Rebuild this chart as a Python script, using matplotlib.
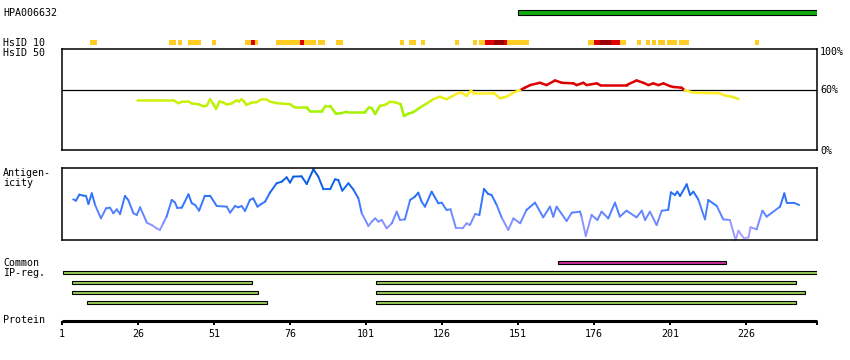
import numpy as np
import matplotlib
matplotlib.use("Agg")
import matplotlib.pyplot as plt
from matplotlib.collections import LineCollection

# ---------------- data ----------------
protein_length = 249
antigen_name = "HPA006632"
antigen_start, antigen_end = 151, 249.4

# HsID 10 segments (residue start, end, level: 1 = weak, 2 = medium, 3 = strong)
hs10_start = [10.2, 36.2, 39.2, 42.4, 50.3, 61.2, 63.2, 64.5, 71.4, 79.3, 80.6, 85.2,
              91.1, 112.2, 115.1, 119.1, 130.3, 136.2, 138.2, 140.1, 143.1, 146.4, 147.4,
              174.0, 176.0, 178.0, 181.6, 184.6, 190.1, 193.1, 195.1, 197.1, 200.1, 204.1, 228.9]
hs10_end = [12.5, 38.4, 40.5, 46.7, 51.7, 63.2, 64.5, 65.5, 79.3, 80.6, 84.6, 87.5,
            93.4, 113.5, 117.4, 120.4, 131.6, 137.5, 140.1, 143.1, 146.4, 147.4, 154.6,
            176.0, 178.0, 181.6, 184.6, 186.5, 191.5, 194.4, 196.4, 199.4, 203.4, 207.4, 230.2]
hs10_level = [1, 1, 1, 1, 1, 1, 2, 1, 1, 2, 1, 1,
              1, 1, 1, 1, 1, 1, 1, 2, 3, 2, 1,
              1, 2, 3, 2, 1, 1, 1, 1, 1, 1, 1, 1]

# HsID 50 identity (%)
ident_pos = [25.8, 37.6, 39.3, 40.4, 42.6, 43.7, 45.8, 47.5, 48.6, 49.7, 50.8, 51.7, 52.8,
             54.1, 55.2, 56.8, 58.5, 59.2, 60.1, 60.9, 61.7, 63.4, 65.0, 66.7, 68.3, 69.4,
             71.6, 76.0, 77.6, 81.5, 82.6, 86.4, 87.7, 89.2, 91.1, 93.0, 94.6, 100.7, 102.1,
             102.9, 104.0, 105.6, 107.3, 108.9, 110.5, 112.4, 113.5, 114.9, 116.6, 118.8,
             121.0, 123.1, 125.3, 127.5, 129.7, 131.4, 132.5, 134.1, 135.5, 136.3, 142.9,
             145.1, 147.3, 149.5, 152.2, 153.3, 155.0, 158.2, 160.4, 163.2, 165.4, 169.2,
             170.3, 172.5, 173.6, 176.9, 178.0, 186.7, 190.0, 192.2, 193.9, 195.5, 197.2,
             198.8, 201.0, 202.1, 204.8, 205.9, 208.7, 217.4, 219.1, 221.3, 223.5]
ident_val = [49.8, 49.8, 46.9, 48.2, 48.5, 46.6, 45.9, 43.9, 44.3, 50.8, 45.9, 41.3, 48.5,
             47.5, 45.6, 46.6, 49.8, 48.5, 50.8, 48.5, 45.2, 47.5, 47.9, 50.8, 50.5, 48.5,
             46.9, 45.9, 42.6, 42.6, 38.7, 38.7, 44.3, 44.3, 36.4, 37.0, 38.4, 38.4, 42.9,
             42.0, 36.1, 44.3, 45.2, 48.2, 47.9, 45.9, 34.1, 36.4, 38.0, 42.6,
             46.6, 50.8, 53.4, 50.8, 54.4, 57.0, 57.4, 54.1, 59.3, 57.4, 57.4,
             51.8, 53.4, 57.4, 60.7, 62.3, 64.9, 67.2, 64.9, 69.5, 67.2, 66.6,
             64.9, 67.2, 64.9, 66.6, 64.9, 64.9, 69.5, 67.2, 64.9, 66.6, 64.9,
             66.6, 63.9, 63.0, 62.3, 59.7, 57.4, 56.7, 54.4, 53.4, 51.1]

# Antigenicity (relative score, 0-100)
anti_pos = [4.7, 5.6, 6.7, 8.0, 8.9, 9.7, 10.8, 11.9, 13.8, 15.5, 16.8, 17.9, 19.0, 20.1,
            21.7, 22.8, 24.5, 25.6, 26.7, 28.9, 30.5, 32.1, 33.2, 34.3, 35.4, 37.1, 38.2,
            38.9, 40.4, 42.6, 43.7, 44.8, 46.1, 48.0, 49.7, 51.9, 55.2, 56.3, 57.9, 59.0,
            60.1, 61.2, 62.8, 63.9, 65.3, 66.4, 67.8, 69.4, 71.6, 73.3, 74.9, 76.0, 77.1,
            79.8, 81.5, 83.7, 85.3, 87.0, 89.2, 90.8, 91.9, 93.2, 95.2, 96.8, 98.5, 99.6,
            101.8, 102.9, 104.0, 105.1, 106.2, 107.8, 109.5, 111.1, 112.2, 113.8, 115.5,
            117.1, 118.2, 119.3, 120.4, 122.6, 124.8, 125.9, 127.5, 128.8, 130.6, 132.8,
            134.1, 135.2, 136.9, 138.3, 139.8, 141.2, 142.3, 144.0, 145.6, 147.8, 149.5,
            151.7, 153.8, 156.6, 159.3, 161.5, 162.6, 163.7, 167.0, 168.7, 171.4, 171.9,
            173.3, 175.2, 177.1, 178.5, 180.7, 182.9, 184.5, 186.7, 190.0, 191.7, 192.8,
            194.4, 196.6, 198.3, 200.4, 201.3, 202.6, 203.4, 204.3, 206.5, 207.6, 208.7,
            210.3, 212.5, 213.6, 216.4, 218.5, 220.7, 222.6, 223.5, 225.3, 226.8, 227.5,
            229.5, 231.4, 232.8, 237.2, 238.6, 239.4, 241.6, 243.5]
anti_val = [56.7, 54.9, 63.3, 61.9, 61.4, 50.2, 65.1, 48.8, 30.2, 44.2, 45.1, 37.2, 42.8, 36.3,
            61.4, 55.8, 37.2, 34.9, 45.6, 24.2, 20.9, 16.3, 14.0, 23.3, 32.6, 55.8, 52.1,
            44.7, 45.1, 63.7, 51.2, 48.8, 40.9, 61.9, 61.9, 47.4, 46.5, 38.1, 47.4, 45.6,
            47.4, 40.5, 55.8, 58.1, 46.5, 49.8, 53.5, 66.0, 79.1, 81.4, 87.4, 80.0, 88.4,
            88.8, 78.1, 98.6, 88.4, 70.7, 70.7, 84.7, 83.7, 68.8, 79.1, 70.7, 58.1, 37.2,
            19.5, 25.6, 30.2, 25.6, 27.9, 16.3, 23.3, 39.5, 27.9, 28.8, 55.8,
            60.5, 66.0, 53.5, 46.5, 67.4, 51.2, 52.1, 41.9, 42.8, 16.3, 16.3,
            23.3, 20.9, 36.3, 34.9, 71.2, 64.2, 62.8, 48.8, 31.6, 14.0, 30.2,
            23.3, 41.9, 52.1, 31.6, 46.5, 32.6, 46.5, 26.5, 38.1, 39.5, 32.6,
            5.6, 34.9, 27.9, 39.5, 30.2, 52.1, 32.6, 40.9, 31.6, 40.9, 27.9,
            39.5, 20.9, 40.9, 41.9, 66.5, 62.8, 67.4, 61.4, 77.7, 62.8, 67.4,
            56.7, 28.8, 55.8, 47.4, 28.8, 27.9, 0.0, 13.0, 2.3, 3.7, 17.7,
            14.9, 40.9, 32.6, 46.5, 65.1, 52.1, 52.1, 48.8]

# Common IP-regions: rows (0 = top), start, end, kind
ip_row = [0, 1, 2, 2, 3, 3, 4, 4]
ip_start = [164.3, 1.4, 4.4, 104.4, 4.4, 104.4, 9.3, 104.4]
ip_end = [219.3, 249.3, 63.4, 242.3, 65.4, 245.3, 68.3, 242.3]
ip_kind = ["common", "ip", "ip", "ip", "ip", "ip", "ip", "ip"]

tick_vals = [1, 26, 51, 76, 101, 126, 151, 176, 201, 226]

# ---------------- layout ----------------
W, H = 850, 360
fig = plt.figure(figsize=(W / 100, H / 100), dpi=100)
FONT = dict(family="DejaVu Sans Mono", size=7.2, color="black")
XL, XR = 62, 817
XMAX = 1 + (XR - XL) / 3.04


def add_ax(y0, y1, x0=XL, x1=XR):
    ax = fig.add_axes([x0 / W, 1 - y1 / H, (x1 - x0) / W, (y1 - y0) / H])
    ax.set_xlim(1, XMAX)
    return ax


def hide(ax):
    for s in ax.spines.values():
        s.set_visible(False)
    ax.set_xticks([])
    ax.set_yticks([])
    ax.patch.set_alpha(0)


def ftext(x, y, s, **kw):
    d = dict(FONT)
    d.update(kw)
    fig.text(x / W, 1 - y / H, s, va="center", ha=d.pop("ha", "left"), **d)


# antigen bar
ax = add_ax(5, 20)
hide(ax)
ax.set_ylim(-1, 1)
ax.barh(0, antigen_end - antigen_start, left=antigen_start, height=0.62,
        color="#11aa11", edgecolor="black", linewidth=0.8)

# HsID 10 row
ax = add_ax(38, 47)
hide(ax)
ax.set_ylim(0, 9)
lvl_col = {1: "#ffcc22", 2: "#dd0000", 3: "#990000"}
for s, e, l in zip(hs10_start, hs10_end, hs10_level):
    ax.broken_barh([(s, e - s)], (2, 5), facecolors=lvl_col[l], linewidth=0)

# identity plot
ax = add_ax(48.5, 150.3)
ax.set_ylim(0, 101.3)
ax.set_xticks([])
ax.set_yticks([])
for s in ax.spines.values():
    s.set_linewidth(1.1)
ax.axhline(60, color="black", linewidth=0.9)


def ident_color(v):
    if v >= 60:
        return (0.87, 0.0, 0.0)
    r = np.interp(v, [30, 40, 50, 55, 60], [0.58, 0.65, 0.82, 1.0, 1.0])
    g = np.interp(v, [30, 40, 50, 55, 60], [0.95, 0.95, 0.94, 0.93, 0.93])
    b = np.interp(v, [30, 40, 50, 55, 60], [0.0, 0.0, 0.05, 0.15, 0.15])
    return (r, g, b)


ip = np.array(ident_pos)
iv = np.array(ident_val)
segs = np.stack([np.column_stack([ip[:-1], iv[:-1]]), np.column_stack([ip[1:], iv[1:]])], axis=1)
cols = [ident_color((a + b) / 2) for a, b in zip(iv[:-1], iv[1:])]
ax.add_collection(LineCollection(segs, colors=cols, linewidths=1.8, capstyle="round"))

# antigenicity plot
ax = add_ax(168.3, 240)
ax.set_ylim(0, 100)
ax.set_xticks([])
ax.set_yticks([])
for s in ax.spines.values():
    s.set_linewidth(1.1)


def anti_color(v):
    r = np.interp(v, [0, 20, 50, 80, 100], [0.70, 0.55, 0.22, 0.05, 0.0])
    g = np.interp(v, [0, 20, 50, 80, 100], [0.65, 0.58, 0.47, 0.38, 0.33])
    b = np.interp(v, [0, 20, 50, 80, 100], [1.0, 1.0, 1.0, 0.92, 0.82])
    return (r, g, b)


ap = np.array(anti_pos)
av = np.array(anti_val)
segs = np.stack([np.column_stack([ap[:-1], av[:-1]]), np.column_stack([ap[1:], av[1:]])], axis=1)
cols = [anti_color((a + b) / 2) for a, b in zip(av[:-1], av[1:])]
lc = LineCollection(segs, colors=cols, linewidths=1.4, capstyle="round")
lc.set_clip_on(False)
ax.add_collection(lc)

# IP regions
ax = add_ax(257.5, 307.5)
hide(ax)
ax.set_ylim(4.5, -0.5)
kind_col = {"common": "#cc3399", "ip": "#99cc55"}
for r, s, e, k in zip(ip_row, ip_start, ip_end, ip_kind):
    ax.barh(r, e - s, left=s, height=0.3, color=kind_col[k],
            edgecolor="black", linewidth=0.8)

# protein axis (bottom spine = thick protein line)
ax = add_ax(310, 320.5)
ax.set_ylim(0, 1)
for k in ("top", "left", "right"):
    ax.spines[k].set_visible(False)
ax.spines["bottom"].set_linewidth(2.2)
ax.spines["bottom"].set_capstyle("butt")
ax.patch.set_alpha(0)
ax.set_yticks([])
ax.set_xticks(tick_vals + [XMAX])
ax.set_xticklabels([str(t) for t in tick_vals] + [""], fontfamily="DejaVu Sans Mono", fontsize=7.2)
ax.tick_params(axis="x", direction="out", length=3.2, width=1.4, pad=3.0)

# labels
ftext(3, 13, antigen_name)
ftext(3, 42.5, "HsID 10")
ftext(3, 53, "HsID 50")
ftext(820, 52, "100%")
ftext(820, 90, "60%")
ftext(820, 150.5, "0%")
ftext(3, 173, "Antigen-")
ftext(3, 183.5, "icity")
ftext(3, 263, "Common")
ftext(3, 273.5, "IP-reg.")
ftext(3, 320, "Protein")

fig.savefig("out.png", dpi=100)
